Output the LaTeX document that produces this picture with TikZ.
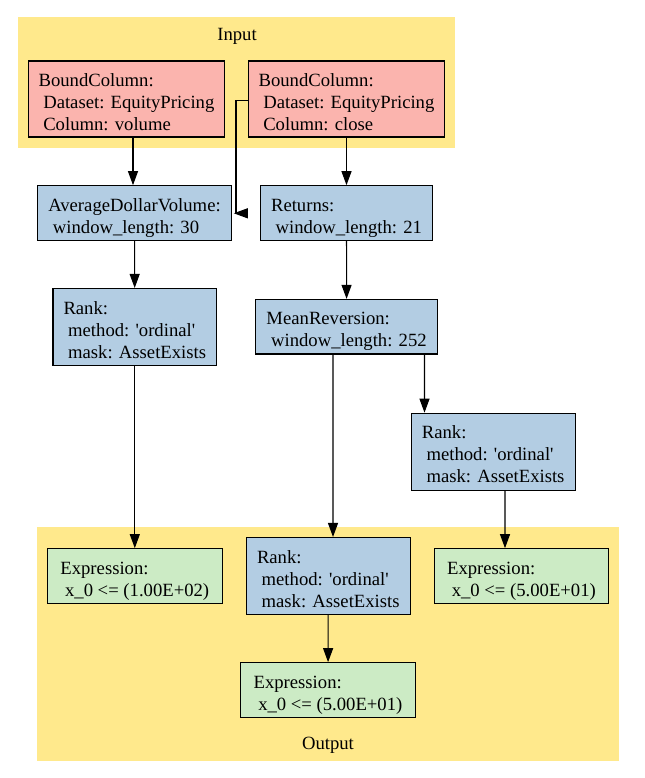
\documentclass[tikz,border=0pt]{standalone}
\usepackage{fontspec}
\setmainfont{Liberation Serif}
\usetikzlibrary{arrows.meta, calc}

\definecolor{colpink}{HTML}{FBB4AE}
\definecolor{colblue}{HTML}{B3CDE3}
\definecolor{colgreen}{HTML}{CCEBC5}
\definecolor{colyellow}{HTML}{FFE98C}
\newcommand{\ind}{\hspace*{0.25em}}
\newcommand{\qt}{\textquotesingle}
\newcommand{\topstrut}{\rule{0pt}{17pt}}
\newcommand{\botstrut}{\rule[-3.5pt]{0pt}{0pt}}

\begin{document}
\begin{tikzpicture}[x=0.75pt, y=-0.75pt,
    size/.style 2 args={minimum width=#1*0.75pt, minimum height=#2*0.75pt},
    box/.style={rectangle, draw=black, line width=0.8pt, align=left, inner xsep=7.9pt, inner ysep=1pt,
        font=\fontsize{14pt}{16.5pt}\selectfont},
    term/.style={box, fill=colpink},
    factor/.style={box, fill=colblue},
    expr/.style={box, fill=colgreen},
    cluster/.style={rectangle, fill=colyellow, inner sep=0pt},
    clusterlabel/.style={inner sep=0pt, font=\fontsize{14pt}{16.5pt}\selectfont},
    edge/.style={-{Triangle[length=10.5pt, width=7.5pt]}, line width=0.8pt},
    line/.style={line width=0.8pt}]
    \useasboundingbox (0,0) rectangle (644,778);

    % Clusters
    \node[cluster, size={437}{131}] (input) at (236.5,82.5) {};
    \node[clusterlabel] (inputlabel) at (237,36) {Input};
    \node[cluster, size={582.5}{234.3}] (output) at (327.75,643.85) {};
    \node[clusterlabel] (outputlabel) at (328,745.7) {Output};

    % Input nodes
    \node[term, size={195}{76}] (volume) at (126.5,99) {\topstrut BoundColumn:\\\ind Dataset: EquityPricing\\\ind Column: volume\botstrut};
    \node[term, size={195}{76}] (close) at (346.5,99) {\topstrut BoundColumn:\\\ind Dataset: EquityPricing\\\ind Column: close\botstrut};

    % Factor nodes
    \node[factor, size={189}{54.6}] (adv) at (134.5,213) {\topstrut AverageDollarVolume:\\\ind window\_length: 30\botstrut};
    \node[factor, size={171}{54.6}] (returns) at (346.5,213) {\topstrut Returns:\\\ind window\_length: 21\botstrut};
    \node[factor, size={163.5}{77}] (rankadv) at (134.8,327) {\topstrut Rank:\\\ind method: \qt ordinal\qt\\\ind mask: AssetExists\botstrut};
    \node[factor, size={180}{54.6}] (meanrev) at (346.6,326.7) {\topstrut MeanReversion:\\\ind window\_length: 252\botstrut};
    \node[factor, size={163.5}{77}] (rankhigh) at (493.2,451.7) {\topstrut Rank:\\\ind method: \qt ordinal\qt\\\ind mask: AssetExists\botstrut};
    \node[factor, size={163.5}{77}] (ranklow) at (328.3,576) {\topstrut Rank:\\\ind method: \qt ordinal\qt\\\ind mask: AssetExists\botstrut};

    % Output nodes
    \node[expr, size={174.5}{54.6}] (top) at (134.8,576) {\topstrut Expression:\\\ind x\_0 <= (1.00E+02)\botstrut};
    \node[expr, size={174.5}{54.6}] (longs) at (521.5,576) {\topstrut Expression:\\\ind x\_0 <= (5.00E+01)\botstrut};
    \node[expr, size={174.5}{54.6}] (shorts) at (328,690) {\topstrut Expression:\\\ind x\_0 <= (5.00E+01)\botstrut};

    % Edges
    \draw[edge] ($(volume.south)+(6.5,0)$) -- ($(adv.north)+(-1.5,0)$);
    \draw[edge] (close) -- (returns);
    \draw[edge] (adv) -- (rankadv);
    \draw[edge] (returns) -- (meanrev);
    \draw[edge] (rankadv) -- (top);
    \draw[edge] ($(meanrev.south)+(-13.6,0)$) -- ($(ranklow.north)+(4.7,0)$);
    \draw[edge] ($(meanrev.south)+(77.9,0)$) -- ($(rankhigh.north)+(-68.7,0)$);
    \draw[edge] ($(rankhigh.south)+(11.8,0)$) -- ($(longs.north)+(-16.5,0)$);
    \draw[edge] (ranklow) -- (shorts);

    % close -> adv, routed round the left
    \coordinate (kink) at (236,100.3);
    \coordinate (drop) at (236,213.3);
    \coordinate (headbase) at (246,213.3);
    \draw[line] (close.west |- kink) -- (kink) -- (drop);
    \draw[edge, shorten >=1.5pt] (headbase) -- (adv.east |- headbase);

\end{tikzpicture}
\end{document}
